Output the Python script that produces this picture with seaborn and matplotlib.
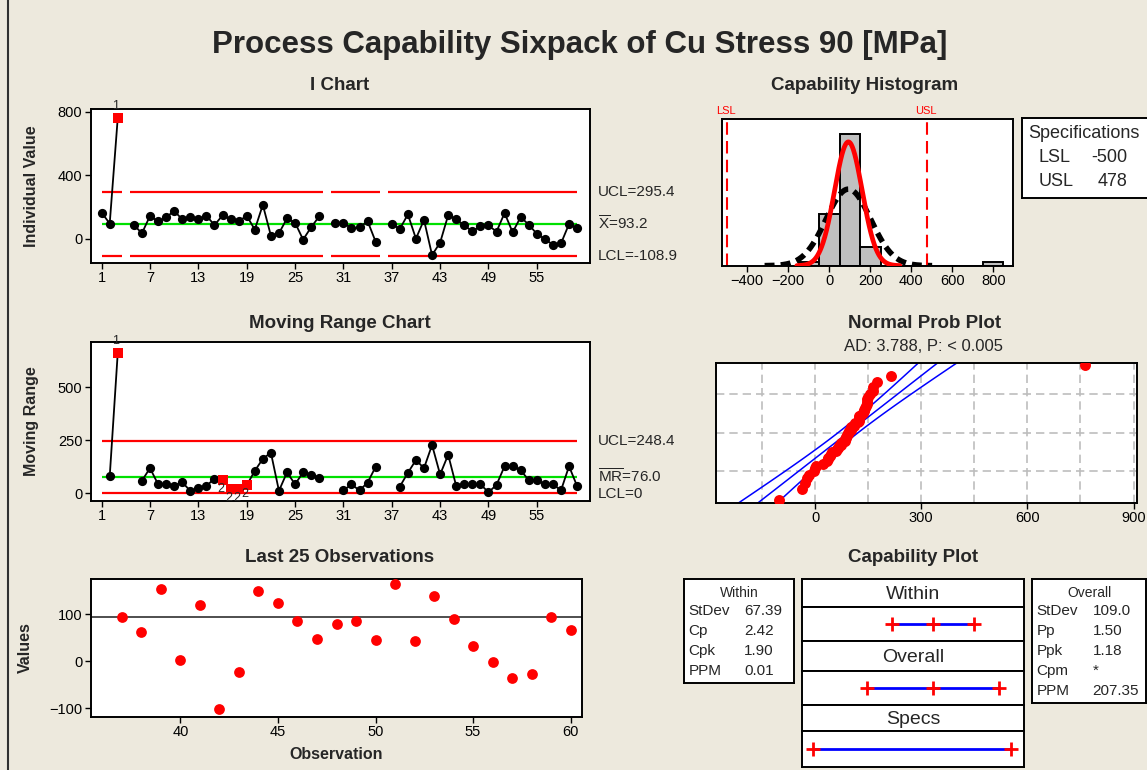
import numpy as np
import pandas as pd
import matplotlib
matplotlib.use("Agg")
import matplotlib.pyplot as plt
from matplotlib.lines import Line2D
import seaborn as sns
from statistics import NormalDist

nan = np.nan

# ---------------- data ----------------
observation = list(range(1, 61))
individual_value = [165, 97, 762, nan, 87, 36, 145, 110, 136, 176,
                    123, 138, 123, 146, 87, 148, 123, 110, 146, 59,
                    214, 21, 36, 129, 102, -4, 74, 142, nan, 102,
                    102, 66, 72, 112, -17, nan, 94, 63, 154, 2,
                    120, -101, -23, 149, 124, 85, 48, 80, 85, 46,
                    163, 42, 138, 89, 33, -1, -36, -28, 94, 67]
moving_range = [nan, 80, 664, nan, nan, 60, 119, 43, 43, 37,
                52, 12, 23, 35, 70, 63, 22, 22, 38, 106,
                163, 192, 12, 99, 43, 99, 88, 74, nan, nan,
                14, 42, 14, 51, 125, nan, nan, 32, 97, 157,
                119, 228, 89, 182, 34, 43, 43, 43, 5, 40,
                128, 128, 109, 62, 62, 43, 43, 14, 128, 34]
i_flags = {3: "1"}
mr_flags = {3: "1", 16: "2", 17: "2", 18: "2", 19: "2"}
i_limits = [295.4, 93.2, -108.9]      # UCL, centre, LCL
mr_limits = [248.4, 76.0, 0.0]
chart_ticks = [1, 7, 13, 19, 25, 31, 37, 43, 49, 55]
i_yticks = [0, 400, 800]
mr_yticks = [0, 250, 500]
last_ticks = [40, 45, 50, 55, 60]
last_yticks = [-100, 0, 100]
hist_ticks = [-400, -200, 0, 200, 400, 600, 800]
hist_bins = [-150, -50, 50, 150, 250, 350, 450, 550, 650, 750, 850]
prob_ticks = [0, 300, 600, 900]
prob_grid = [-150, 150, 450, 750]
prob_pct = [0.10, 0.50, 0.90]
spec_names = ["LSL", "USL"]
spec_limits = [-500, 478]
process_mean = 93.2
sd_within = 67.39
sd_overall = 109.0
within_stats = [("StDev", "67.39"), ("Cp", "2.42"), ("Cpk", "1.90"), ("PPM", "0.01")]
overall_stats = [("StDev", "109.0"), ("Pp", "1.50"), ("Ppk", "1.18"), ("Cpm", "*"), ("PPM", "207.35")]
ad_text = "AD: 3.788, P: < 0.005"

# ---------------- style ----------------
sns.set_style("ticks")
plt.rcParams["font.family"] = ["Liberation Sans", "DejaVu Sans"]
plt.rcParams["mathtext.fontset"] = "custom"
plt.rcParams["mathtext.rm"] = "Liberation Sans"
BG = "#EDE9DD"
RED = "#FF0000"
GREEN = "#00E000"
BLUE = "#0000FF"

W, H = 1147, 770
fig = plt.figure(figsize=(W / 100, H / 100), dpi=100, facecolor=BG)


def ax_px(l, t, r, b):
    a = fig.add_axes([l / W, 1 - b / H, (r - l) / W, (b - t) / H])
    a.set_facecolor("white")
    for s in a.spines.values():
        s.set_linewidth(1.4)
        s.set_color("black")
    a.tick_params(direction="out", length=4, width=1, labelsize=10.5, pad=2, colors="black")
    return a


def txt(x, y, s, **kw):
    kw.setdefault("ha", "center")
    kw.setdefault("va", "center")
    fig.text(x / W, 1 - y / H, s, **kw)


# frame
fig.add_artist(Line2D([8.3 / W, 8.3 / W], [0, 1], color="#303030", lw=1.5))

txt(579.5, 45, "Process Capability Sixpack of Cu Stress 90 [MPa]", fontsize=22.5, fontweight="bold")
txt(340, 85, "I Chart", fontsize=13.5, fontweight="bold")
txt(340, 323, "Moving Range Chart", fontsize=13.5, fontweight="bold")
txt(340, 558, "Last 25 Observations", fontsize=13.5, fontweight="bold")
txt(865, 85, "Capability Histogram", fontsize=13.5, fontweight="bold")
txt(925, 323, "Normal Prob Plot", fontsize=13.5, fontweight="bold")
txt(924, 346, ad_text, fontsize=12)


def control_chart(ax, values, flags, limits, gapped, lbls, ylim, yticks, ylabel):
    df = pd.DataFrame({"obs": observation, "value": values})
    df["seg"] = df["value"].isna().cumsum()
    d = df.dropna()
    sns.lineplot(data=d, x="obs", y="value", units="seg", estimator=None,
                 color="black", lw=1.3, ax=ax, legend=False, zorder=2)
    fl = d["obs"].isin(list(flags.keys()))
    sns.scatterplot(data=d[~fl], x="obs", y="value", color="black", s=44,
                    linewidth=0, ax=ax, zorder=3)
    sns.scatterplot(data=d[fl], x="obs", y="value", color=RED, marker="s", s=54,
                    linewidth=0, ax=ax, zorder=3)
    first, last = observation[0], observation[-1]
    ucl, cl, lcl = limits
    if gapped:
        for _, g in d.groupby("seg"):
            a = max(g["obs"].min() - 0.5, first)
            b = min(g["obs"].max() + 0.5, last)
            ax.hlines([ucl, lcl], a, b, color=RED, lw=1.6, zorder=1)
    else:
        ax.hlines([ucl, lcl], first, last, color=RED, lw=1.6, zorder=1)
    ax.hlines(cl, first, last, color=GREEN, lw=1.6, zorder=1)
    for o, s in flags.items():
        v = d.loc[d["obs"] == o, "value"].iloc[0]
        dy = 8.5 if s == "1" else -6.5
        ax.annotate(s, (o, v), xytext=(-1.5, dy), textcoords="offset points",
                    ha="center", va="center", fontsize=9, annotation_clip=False)
    tr = ax.get_yaxis_transform()
    for yv, s in zip(lbls[0], lbls[1]):
        ax.text(1.016, yv, s, transform=tr, ha="left", va="center", fontsize=11)
    ax.set_xlim(-0.36, 61.6)
    ax.set_ylim(*ylim)
    ax.set_xticks(chart_ticks)
    ax.set_yticks(yticks)
    ax.set_xlabel("")
    ax.set_ylabel(ylabel, fontsize=11.5, fontweight="bold")
    ax.yaxis.set_label_coords(-0.1035, 0.5)


# ---------------- I chart ----------------
ax1 = ax_px(90.7, 109.3, 590, 262.7)
control_chart(ax1, individual_value, i_flags, i_limits, True,
              ([i_limits[0], i_limits[1], i_limits[2]],
               [f"UCL={i_limits[0]}", r"$\overline{\mathrm{X}}$" + f"={i_limits[1]}", f"LCL={i_limits[2]}"]),
              (-149, 814), i_yticks, "Individual Value")

# ---------------- MR chart ----------------
ax2 = ax_px(90.7, 341.7, 590, 501)
control_chart(ax2, moving_range, mr_flags, mr_limits, False,
              ([mr_limits[0], mr_limits[1] + 4, mr_limits[2] - 3],
               [f"UCL={mr_limits[0]}", r"$\overline{\mathrm{MR}}$" + f"={mr_limits[1]}", "LCL=0"]),
              (-36, 715), mr_yticks, "Moving Range")

# ---------------- Last 25 ----------------
ax3 = ax_px(90.7, 579.3, 582.3, 716.7)
last_obs = observation[35:]
last_vals = individual_value[35:]
ax3.axhline(process_mean, color="#404040", lw=1.3, zorder=1)
sns.scatterplot(x=last_obs, y=last_vals, color=RED, s=60, linewidth=0, ax=ax3, zorder=3)
ax3.set_xlim(35.4, 60.6)
ax3.set_ylim(-118, 174)
ax3.set_xticks(last_ticks)
ax3.set_yticks(last_yticks)
ax3.set_xlabel("Observation", fontsize=11.5, fontweight="bold", labelpad=6)
ax3.set_ylabel("Values", fontsize=11.5, fontweight="bold")
ax3.yaxis.set_label_coords(-0.117, 0.5)

# ---------------- Capability histogram ----------------
ax4 = ax_px(722.3, 119.3, 1013.3, 265.7)
vals = pd.Series(individual_value).dropna()
sns.histplot(x=vals, bins=hist_bins, stat="density", color="#C0C0C0", edgecolor="black",
             linewidth=1.4, alpha=1, ax=ax4, zorder=1)


def npdf(x, m, s):
    return np.exp(-0.5 * ((x - m) / s) ** 2) / (s * np.sqrt(2 * np.pi))


xo = np.linspace(process_mean - 3.75 * sd_overall, process_mean + 3.75 * sd_overall, 300)
xw = np.linspace(process_mean - 3.73 * sd_within, process_mean + 3.73 * sd_within, 300)
sns.lineplot(x=xo, y=npdf(xo, process_mean, sd_overall), color="black", lw=4,
             linestyle=(0, (1.8, 1.1)), ax=ax4, zorder=3)
sns.lineplot(x=xw, y=npdf(xw, process_mean, sd_within), color=RED, lw=3.4, ax=ax4, zorder=4)
for nm, v in zip(spec_names, spec_limits):
    ax4.axvline(v, color=RED, lw=1.5, linestyle=(0, (6, 3)), zorder=2)
    ax4.text(v - 6, 1.06, nm, transform=ax4.get_xaxis_transform(), ha="center", va="center",
             fontsize=8, color=RED)
ax4.set_xlim(-522, 898)
ax4.set_ylim(0, 0.0070)
ax4.set_xticks(hist_ticks)
ax4.set_yticks([])
ax4.set_xlabel("")
ax4.set_ylabel("")

# specifications box
axs = ax_px(1021.7, 118.3, 1152, 197.7)
axs.set_xticks([]); axs.set_yticks([])
axs.set_xlim(1021.7, 1152); axs.set_ylim(197.7, 118.3)
axs.text(1028.3, 134, "Specifications", fontsize=13, ha="left", va="center")
for (nm, v), yy in zip(zip(spec_names, spec_limits), [157, 181]):
    axs.text(1038.3, yy, nm, fontsize=13, ha="left", va="center")
    axs.text(1127.3, yy, f"{v}", fontsize=13, ha="right", va="center")

# ---------------- Normal probability plot ----------------
ax5 = ax_px(716, 362.7, 1136.7, 502.7)
sv = np.sort(vals.values)
n = len(sv)
zq = np.array([NormalDist().inv_cdf((i - 0.3) / (n + 0.4)) for i in range(1, n + 1)])
zz = np.linspace(-2.7, 2.7, 120)
center = process_mean + sd_overall * zz
half = 1.96 * sd_overall / np.sqrt(n) * np.sqrt(1 + zz ** 2 / 2)
for xx in (center - half, center, center + half):
    sns.lineplot(x=xx, y=zz, estimator=None, sort=False, color=BLUE, lw=1.1, ax=ax5, zorder=2)
sns.scatterplot(x=sv, y=zq, color=RED, s=62, linewidth=0, ax=ax5, zorder=3)
ax5.set_xlim(-280, 909)
ax5.set_ylim(-2.33, 2.33)
ax5.set_xticks(prob_ticks)
ax5.set_xticks(prob_grid, minor=True)
ax5.set_yticks([NormalDist().inv_cdf(p) for p in prob_pct])
ax5.set_yticklabels([])
ax5.tick_params(axis="y", length=0)
ax5.tick_params(axis="x", which="minor", length=0)
ax5.grid(True, which="both", axis="both", color="#BDBDBD", lw=1.2, linestyle=(0, (5, 3)))
ax5.set_axisbelow(True)
ax5.set_xlabel("")
ax5.set_ylabel("")

# ---------------- Capability plot ----------------
txt(913, 558, "Capability Plot", fontsize=13.5, fontweight="bold")
cap_xlim = (-556, 542)
rows = [("Within", 579.3, 606.7, 640.7, sd_within),
        ("Overall", 640.7, 670.7, 705, sd_overall),
        ("Specs", 705, 731, 767.3, None)]
for name, t, m, b, sd in rows:
    ah = ax_px(802, t, 1023.7, m)
    ah.set_xticks([]); ah.set_yticks([])
    ah.text(0.5, 0.45, name, transform=ah.transAxes, ha="center", va="center", fontsize=14)
    ap = ax_px(802, m, 1023.7, b)
    ap.set_xticks([]); ap.set_yticks([])
    if sd is None:
        pts = list(spec_limits)
    else:
        pts = [process_mean - 3 * sd, process_mean, process_mean + 3 * sd]
    sns.lineplot(x=[pts[0], pts[-1]], y=[0.5, 0.5], color=BLUE, lw=2, ax=ap, zorder=2)
    sns.scatterplot(x=pts, y=[0.5] * len(pts), color=RED, marker="+", s=90,
                    linewidth=2, ax=ap, zorder=3)
    ap.set_xlim(*cap_xlim)
    ap.set_ylim(0, 1)
    ap.set_xlabel(""); ap.set_ylabel("")


def stat_table(l, t, r, b, title, stats):
    a = ax_px(l, t, r, b)
    a.set_xticks([]); a.set_yticks([])
    a.set_xlim(l, r); a.set_ylim(b, t)
    a.text((l + r) / 2, 593, title, ha="center", va="center", fontsize=10)
    for i, (k, v) in enumerate(stats):
        yy = 611 + 20 * i
        a.text(l + 4.3, yy, k, ha="left", va="center", fontsize=11)
        a.text(l + 60.3, yy, v, ha="left", va="center", fontsize=11)


stat_table(684, 579.3, 794.3, 683.3, "Within", within_stats)
stat_table(1032.3, 579.3, 1146.2, 703.3, "Overall", overall_stats)

fig.savefig("out.png", dpi=100, facecolor=BG)
